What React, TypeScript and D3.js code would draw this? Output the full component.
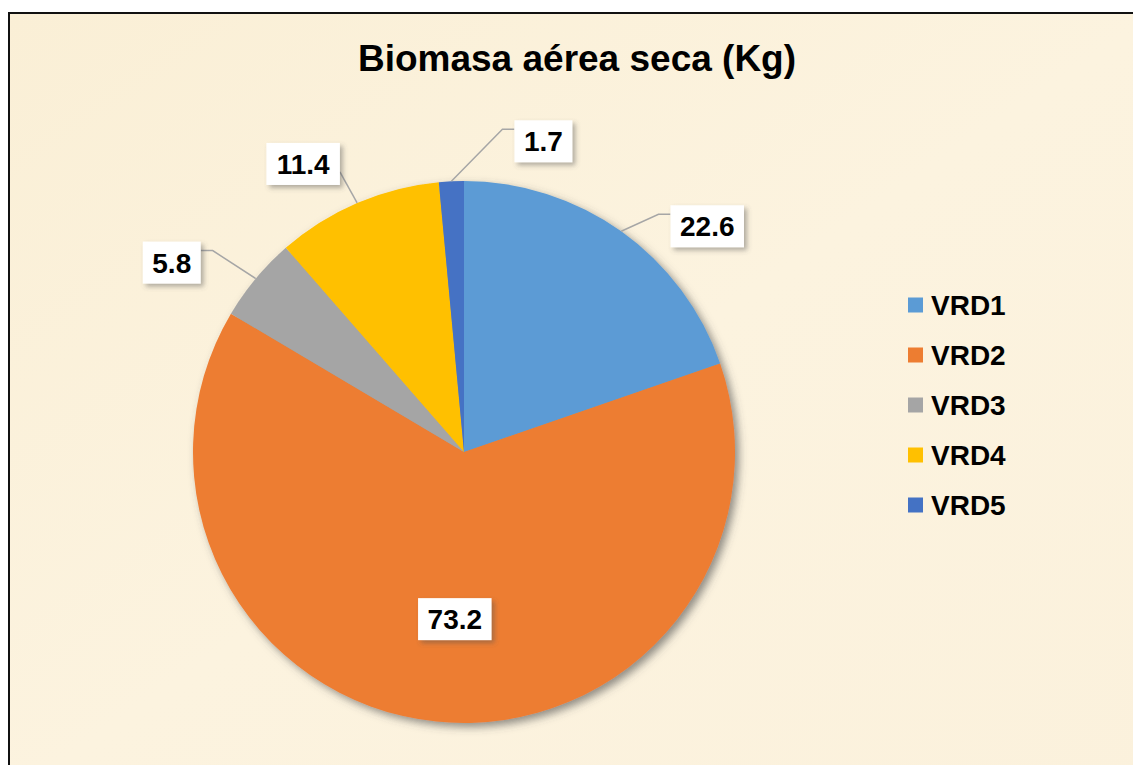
import * as d3 from "d3";
import { useEffect } from "react";

const categories = ["VRD1", "VRD2", "VRD3", "VRD4", "VRD5"];
const values = [22.6, 73.2, 5.8, 11.4, 1.7];
const colors = ["#5B9BD5", "#ED7D31", "#A5A5A5", "#FFC000", "#4472C4"];
const title = "Biomasa aérea seca (Kg)";

// label placement: offset of the box centre from the slice's outer mid point
const labelLayout = [
  { dx: 86, dy: -5, attach: -12, elbow: 12, inside: false },
  { dx: 8, dy: -2, attach: 0, elbow: 0, inside: true },
  { dx: -84, dy: -16, attach: -12, elbow: 12, inside: false },
  { dx: -54, dy: -39, attach: 8, elbow: 0, inside: false },
  { dx: 92, dy: -40, attach: -12, elbow: 12, inside: false },
];

const width = 1133;
const height = 765;
const cx = 464;
const cy = 452;
const radius = 271;
const font = "'Liberation Sans', Arial, sans-serif";

export default function App() {
  useEffect(() => {
    document.body.style.margin = "0";
  }, []);

  const pie = d3.pie<number>().sort(null).value((d) => d);
  const arcs = pie(values);
  const arc = d3.arc<d3.PieArcDatum<number>>().innerRadius(0).outerRadius(radius);
  const insideArc = d3.arc<d3.PieArcDatum<number>>().innerRadius(170).outerRadius(170);

  const measure = (s: string) => {
    // Liberation Sans Bold advance widths
    const w: Record<string, number> = { ".": 0.278 };
    let t = 0;
    for (const ch of s) t += w[ch] ?? 0.556;
    return t * 28;
  };

  const legendY = d3.scalePoint<string>().domain(categories).range([305, 505]);

  return (
    <svg width={width} height={height} style={{ display: "block" }} fontFamily={font}>
      <defs>
        <filter id="pieShadow" x="-20%" y="-20%" width="140%" height="140%">
          <feDropShadow dx="4" dy="4" stdDeviation="4" floodColor="#4a4a4a" floodOpacity="0.6" />
        </filter>
        <filter id="boxShadow" x="-30%" y="-30%" width="160%" height="160%">
          <feDropShadow dx="3" dy="3" stdDeviation="2.5" floodColor="#555" floodOpacity="0.45" />
        </filter>
        <linearGradient id="bg" x1="0" y1="0" x2="1" y2="1">
          <stop offset="0" stopColor="#FAEFD6" />
          <stop offset="0.5" stopColor="#FCF3DF" />
          <stop offset="1" stopColor="#FBF1DC" />
        </linearGradient>
      </defs>
      <rect x={9} y={13} width={width + 20} height={height + 20} fill="url(#bg)" stroke="#111" strokeWidth={2} />
      <text x={577} y={71} textAnchor="middle" fontSize={37} fontWeight="bold" fill="#000">
        {title}
      </text>

      <g transform={`translate(${cx},${cy})`}>
        <g filter="url(#pieShadow)">
          {arcs.map((a, i) => (
            <path key={i} d={arc(a) ?? ""} fill={colors[i]} />
          ))}
        </g>
        {arcs.map((a, i) => {
          const L = labelLayout[i];
          const mid = (a.startAngle + a.endAngle) / 2;
          const label = d3.format(".1f")(a.data);
          const bw = measure(label) + 19;
          const bh = 42;
          let bx: number, by: number;
          let leader: [number, number][] | null = null;
          if (L.inside) {
            const [px, py] = insideArc.centroid(a);
            bx = px + L.dx;
            by = py + L.dy;
          } else {
            const px = radius * Math.sin(mid);
            const py = -radius * Math.cos(mid);
            bx = px + L.dx;
            by = py + L.dy;
            const edgeX = L.dx > 0 ? bx - bw / 2 : bx + bw / 2;
            const ey = by + L.attach;
            const elbowX = L.dx > 0 ? edgeX - L.elbow : edgeX + L.elbow;
            leader = [[px, py], [elbowX, ey], [edgeX, ey]];
          }
          return (
            <g key={i}>
              {leader && (
                <path d={d3.line()(leader) ?? ""} fill="none" stroke="#A6A6A6" strokeWidth={1.5} />
              )}
              <rect x={bx - bw / 2} y={by - bh / 2} width={bw} height={bh} fill="#fff" filter="url(#boxShadow)" />
              <text x={bx} y={by + 10} textAnchor="middle" fontSize={28} fontWeight="bold" fill="#000">
                {label}
              </text>
            </g>
          );
        })}
      </g>

      <g>
        {categories.map((c, i) => (
          <g key={c} transform={`translate(908,${legendY(c)})`}>
            <rect x={0} y={-7.5} width={15} height={15} fill={colors[i]} />
            <text x={23} y={10} fontSize={28} fontWeight="bold" fill="#000">
              {c}
            </text>
          </g>
        ))}
      </g>
    </svg>
  );
}
